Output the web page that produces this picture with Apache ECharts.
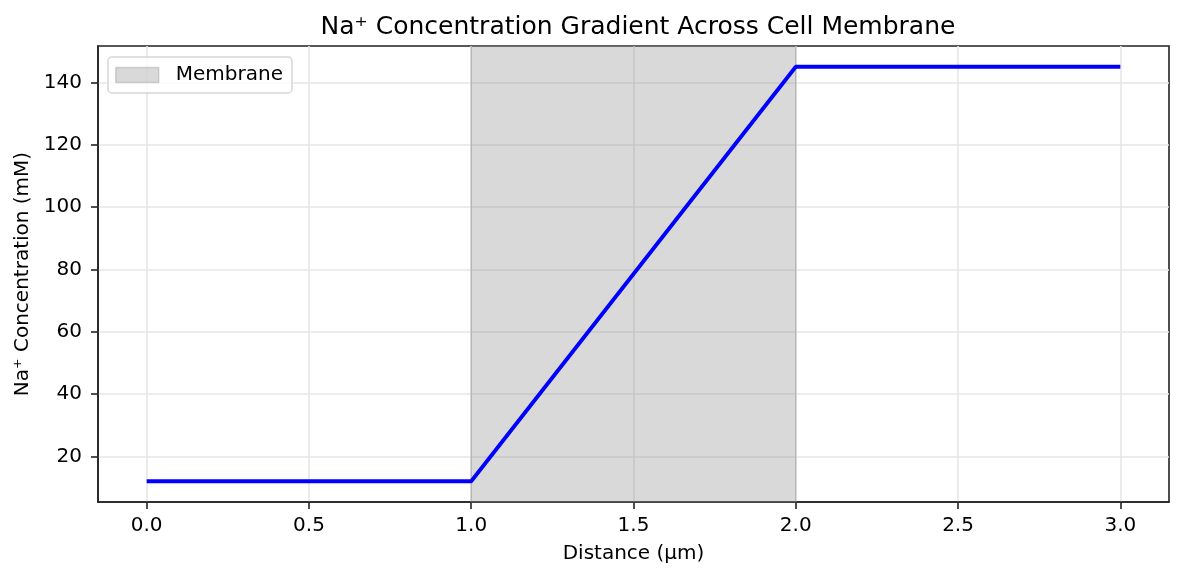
<!DOCTYPE html>
<html>
<head>
<meta charset="utf-8">
<script src="https://cdn.jsdelivr.net/npm/echarts@6/dist/echarts.min.js"></script>
<style>
html,body{margin:0;padding:0;background:#fff;}
#chart{width:1184px;height:581px;}
</style>
</head>
<body>
<div id="chart"></div>
<script>
const titleText = 'Na\u207A Concentration Gradient Across Cell Membrane';
const xName = 'Distance (\u00B5m)';
const yName = 'Na\u207A Concentration (mM)';
const distance = [0, 1, 2, 3];
const naConc = [12, 12, 145, 145];
const membraneRange = [1, 2];
const membraneLabel = 'Membrane';
const xTicks = [0, 0.5, 1, 1.5, 2, 2.5, 3];
const yTicks = [20, 40, 60, 80, 100, 120, 140];
const xExtent = [-0.15, 3.15];
const yExtent = [5.35, 151.65];

const FONT = 'DejaVu Sans';
const chart = echarts.init(document.getElementById('chart'), null, {renderer: 'canvas'});
const shade = 'rgba(128,128,128,0.3)';

chart.setOption({
  animation: false,
  backgroundColor: '#fff',
  title: {
    text: titleText,
    left: 633,
    textAlign: 'center',
    top: 10,
    textStyle: {fontFamily: FONT, fontSize: 25, fontWeight: 'normal', color: '#000'}
  },
  legend: {
    left: 108,
    top: 57,
    orient: 'vertical',
    data: [{name: membraneLabel, icon: 'rect', itemStyle: {color: shade, borderColor: shade, borderWidth: 1.5}}],
    itemWidth: 43,
    itemHeight: 15,
    padding: [8, 9, 8, 7],
    backgroundColor: 'rgba(255,255,255,0.8)',
    borderColor: '#d6d6d6',
    borderWidth: 1.5,
    borderRadius: 4,
    textStyle: {fontFamily: FONT, fontSize: 20, color: '#000', padding: [0, 0, 0, 12]}
  },
  grid: {
    left: 98, right: 15, top: 46, bottom: 79,
    show: true, borderColor: '#222', borderWidth: 1.6, backgroundColor: 'transparent'
  },
  xAxis: {
    type: 'value',
    min: xExtent[0], max: xExtent[1],
    name: xName,
    nameLocation: 'middle',
    nameGap: 52,
    nameTextStyle: {fontFamily: FONT, fontSize: 20, color: '#000', verticalAlign: 'middle'},
    axisLine: {show: true, onZero: false, lineStyle: {color: '#222', width: 1.6}},
    axisTick: {show: true, length: 7, customValues: xTicks, lineStyle: {color: '#222', width: 1.6}},
    axisLabel: {customValues: xTicks, margin: 14, fontFamily: FONT, fontSize: 20, color: '#000',
      formatter: v => v.toFixed(1)},
    splitLine: {show: true, lineStyle: {color: '#e6e6e6', width: 1.6}}
  },
  yAxis: {
    type: 'value',
    min: yExtent[0], max: yExtent[1],
    name: yName,
    nameLocation: 'middle',
    nameGap: 73,
    nameRotate: 90,
    nameTextStyle: {fontFamily: FONT, fontSize: 20, color: '#000', verticalAlign: 'middle'},
    axisLine: {show: true, onZero: false, lineStyle: {color: '#222', width: 1.6}},
    axisTick: {show: true, length: 7, customValues: yTicks, lineStyle: {color: '#222', width: 1.6}},
    axisLabel: {customValues: yTicks, margin: 16, fontFamily: FONT, fontSize: 20, color: '#000',
      formatter: v => String(Math.round(v))},
    splitLine: {show: true, lineStyle: {color: '#e6e6e6', width: 1.6}}
  },
  series: [
    {
      name: membraneLabel,
      type: 'line',
      data: [],
      itemStyle: {color: shade},
      markArea: {
        silent: true,
        itemStyle: {color: shade, borderColor: 'rgba(128,128,128,0.35)', borderWidth: 1.5},
        data: [[{xAxis: membraneRange[0]}, {xAxis: membraneRange[1]}]]
      }
    },
    {
      name: 'Na+',
      type: 'line',
      data: distance.map((d, i) => [d, naConc[i]]),
      showSymbol: false,
      symbol: 'none',
      lineStyle: {color: '#0000ff', width: 3.8},
      itemStyle: {color: '#0000ff'},
      z: 5
    }
  ]
});
</script>
</body>
</html>
